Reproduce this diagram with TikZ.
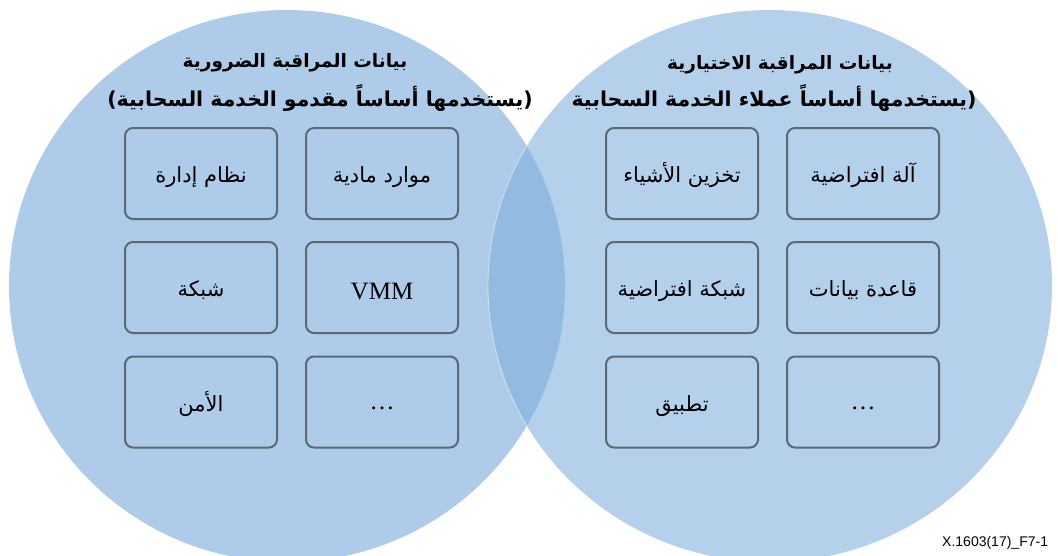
\documentclass[tikz,border=0pt]{standalone}
\usepackage{fontspec}
\TeXXeTstate=1
\newfontfamily\arabicfont[Script=Arabic]{DejaVu Sans}
\newfontfamily\serifrm{Liberation Serif}
\newfontfamily\sansrm{Liberation Sans}
\newcommand{\artxt}[1]{{\arabicfont\beginR #1\endR}}
\newcommand{\boxtxt}[1]{\raisebox{-9pt}[0pt][0pt]{\artxt{#1}}}
\definecolor{circA}{HTML}{AECCE9}
\definecolor{circB}{HTML}{B4D0EA}
\definecolor{overlapc}{HTML}{93BBE1}
\definecolor{boxline}{HTML}{5E6873}
\tikzset{
  itembox/.style={draw=boxline, line width=2pt, rounded corners=8pt,
    minimum width=152pt, minimum height=91pt, inner sep=0pt, font=\fontsize{21}{24}\selectfont},
  latinlabel/.style={font=\serifrm\fontsize{25}{28}\selectfont},
  titleone/.style={font=\fontsize{18.5}{21}\selectfont\bfseries, inner sep=0pt},
  titletwo/.style={font=\fontsize{20.5}{23}\selectfont\bfseries, inner sep=0pt},
}
\begin{document}
\begin{tikzpicture}[x=1pt,y=-1pt]
\useasboundingbox (0,0) rectangle (1058,555);
\fill[white] (0,0) rectangle (1058,555);
% circles
\fill[circA] (287,286) ellipse [x radius=278pt, y radius=276pt];
\fill[circB] (770,286) ellipse [x radius=282pt, y radius=276pt];
\begin{scope}
  \clip (287,286) ellipse [x radius=278pt, y radius=276pt];
  \fill[overlapc] (770,286) ellipse [x radius=282pt, y radius=276pt];
  \draw[white, opacity=0.5, line width=0.8pt] (770,286) ellipse [x radius=282pt, y radius=276pt];
\end{scope}
% titles
\node[titleone] (lt1) at (295,63) {\artxt{بيانات المراقبة الضرورية}};
\node[titletwo] (lt2) at (320,98) {\artxt{(يستخدمها أساساً مقدمو الخدمة السحابية)}};
\node[titleone] (rt1) at (780,65) {\artxt{بيانات المراقبة الاختيارية}};
\node[titletwo] (rt2) at (774,98) {\artxt{(يستخدمها أساساً عملاء الخدمة السحابية}};
% left boxes
\node[itembox] (l11) at (201,173.5) {\boxtxt{نظام إدارة}};
\node[itembox] (l12) at (382,173.5) {\boxtxt{موارد مادية}};
\node[itembox] (l21) at (201,287.5) {\boxtxt{شبكة}};
\node[itembox, latinlabel] (l22) at (382,287.5) {\raisebox{-12pt}[0pt][0pt]{VMM}};
\node[itembox] (l31) at (201,402) {\boxtxt{الأمن}};
\node[itembox, latinlabel] (l32) at (382,402) {\raisebox{-7pt}[0pt][0pt]{\dots}};
% right boxes
\node[itembox] (r11) at (682,173.5) {\boxtxt{تخزين الأشياء}};
\node[itembox] (r12) at (863,173.5) {\boxtxt{آلة افتراضية}};
\node[itembox] (r21) at (682,287.5) {\boxtxt{شبكة افتراضية}};
\node[itembox] (r22) at (863,287.5) {\boxtxt{قاعدة بيانات}};
\node[itembox] (r31) at (682,402) {\boxtxt{تطبيق}};
\node[itembox, latinlabel] (r32) at (863,402) {\raisebox{-7pt}[0pt][0pt]{\dots}};
% footer
\node[anchor=west, inner sep=0pt, font=\sansrm\fontsize{14}{16}\selectfont] (foot) at (942,543) {X.1603(17)\_F7-1};
\end{tikzpicture}
\end{document}
